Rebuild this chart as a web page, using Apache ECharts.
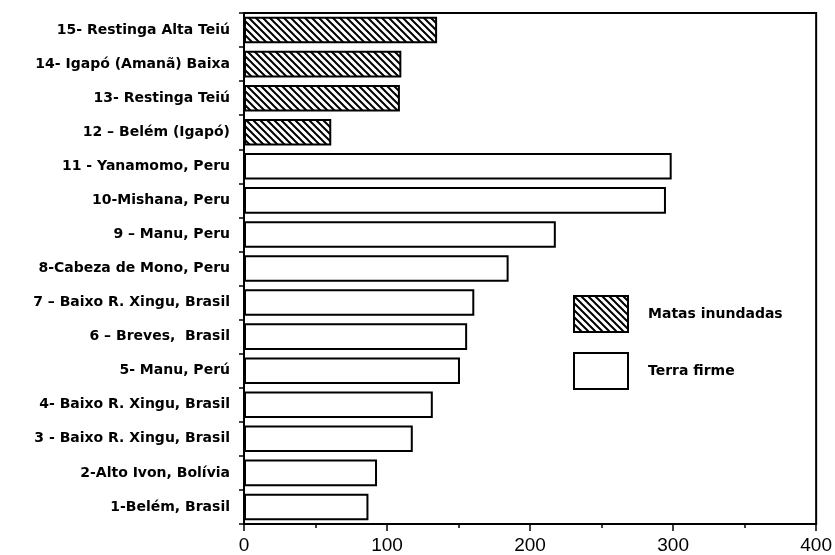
<!DOCTYPE html>
<html>
<head>
<meta charset="utf-8">
<script src="https://cdn.jsdelivr.net/npm/echarts@6/dist/echarts.min.js"></script>
<style>html,body{margin:0;padding:0;background:#fff}#c{width:835px;height:555px}</style>
</head>
<body>
<div id="c"></div>
<script>
var categories = [
  "1-Belém, Brasil",
  "2-Alto Ivon, Bolívia",
  "3 - Baixo R. Xingu, Brasil",
  "4- Baixo R. Xingu, Brasil",
  "5- Manu, Perú",
  "6 – Breves,  Brasil",
  "7 – Baixo R. Xingu, Brasil",
  "8-Cabeza de Mono, Peru",
  "9 – Manu, Peru",
  "10-Mishana, Peru",
  "11 - Yanamomo, Peru",
  "12 – Belém (Igapó)",
  "13- Restinga Teiú",
  "14- Igapó (Amanã) Baixa",
  "15- Restinga Alta Teiú"
];
var matasInundadas = ['-','-','-','-','-','-','-','-','-','-','-', 61, 109, 110, 135];
var terraFirme = [87, 93, 118, 132, 151, 156, 161, 185, 218, 295, 299, '-','-','-','-'];
var xTicks = [0, 100, 200, 300, 400];
var seriesNames = ["Matas inundadas", "Terra firme"];

function hatch() {
  var s = 7;
  var cv = document.createElement('canvas');
  cv.width = s; cv.height = s;
  var ctx = cv.getContext('2d');
  ctx.fillStyle = '#fff';
  ctx.fillRect(0, 0, s, s);
  ctx.strokeStyle = '#000';
  ctx.lineWidth = 2;
  ctx.beginPath();
  ctx.moveTo(-1, -1); ctx.lineTo(s + 1, s + 1);
  ctx.moveTo(-s - 1, -1); ctx.lineTo(1, s + 1);
  ctx.moveTo(s - 1, -1 - s); ctx.lineTo(2 * s + 1, s + 1);
  ctx.moveTo(-1, -s - 1); ctx.lineTo(s + 1, 1);
  ctx.moveTo(-1, s - 1); ctx.lineTo(s + 1, 2 * s + 1);
  ctx.stroke();
  return cv;
}

var chart = echarts.init(document.getElementById('c'), null, {renderer: 'canvas'});
var labelFont = {fontFamily: 'DejaVu Sans', fontWeight: 'bold', fontSize: 14, color: '#000'};
chart.setOption({
  animation: false,
  backgroundColor: '#fff',
  grid: {left: 244, right: 18, top: 13, bottom: 30, show: true, borderColor: '#000', borderWidth: 2, containLabel: false},
  legend: {
    data: seriesNames,
    orient: 'vertical',
    left: 573, top: 295,
    icon: 'rect',
    itemWidth: 54, itemHeight: 36, itemGap: 19,
    padding: 0,
    itemStyle: {borderColor: '#000', borderWidth: 2},
    textStyle: Object.assign({}, labelFont, {padding: [0, 0, 0, 15]})
  },
  xAxis: {
    type: 'value', min: xTicks[0], max: xTicks[xTicks.length - 1], interval: 100,
    splitLine: {show: false},
    axisLine: {show: true, lineStyle: {color: '#000', width: 2}},
    axisTick: {show: true, length: 7, inside: false, lineStyle: {color: '#000', width: 1.5}},
    minorTick: {show: true, splitNumber: 2, length: 4, lineStyle: {color: '#000', width: 1.5}},
    axisLabel: {fontFamily: 'Liberation Sans', fontSize: 19, color: '#000', margin: 12}
  },
  yAxis: {
    type: 'category', data: categories,
    axisLine: {show: true, lineStyle: {color: '#000', width: 2}},
    axisTick: {show: true, length: 5, lineStyle: {color: '#000', width: 1.5}},
    axisLabel: Object.assign({}, labelFont, {margin: 14})
  },
  series: [
    {
      name: seriesNames[0], type: 'bar', stack: 's', data: matasInundadas, barWidth: '78%',
      itemStyle: {color: {image: hatch(), repeat: 'repeat'}, borderColor: '#000', borderWidth: 2}
    },
    {
      name: seriesNames[1], type: 'bar', stack: 's', data: terraFirme, barWidth: '78%',
      itemStyle: {color: '#fff', borderColor: '#000', borderWidth: 2}
    }
  ]
});
</script>
</body>
</html>
